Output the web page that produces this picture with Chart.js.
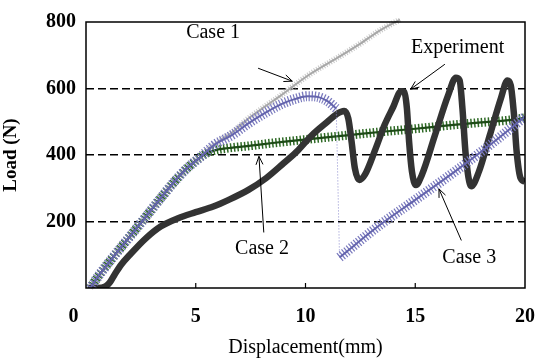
<!DOCTYPE html>
<html>
<head>
<meta charset="utf-8">
<script src="https://cdn.jsdelivr.net/npm/chart.js@4.4.1/dist/chart.umd.min.js"></script>
<style>
  html, body { margin: 0; padding: 0; background: #ffffff; }
  #wrap { width: 552px; height: 360px; position: relative; }
</style>
</head>
<body>
<div id="wrap"><canvas id="c" width="552" height="360"></canvas></div>
<script>
// ---- Data ----
const expX   = [0.1, 0.7, 0.9, 1.1, 1.3, 1.6, 2.0, 2.7, 3.4, 4.2, 5.0, 5.8, 6.5, 7.4, 8.2, 9.0, 9.6, 10.3, 11.0, 11.4, 11.76, 11.95, 12.1, 12.25, 12.45, 12.7, 13.2, 13.6, 14.0, 14.35, 14.5, 14.62, 14.72, 14.85, 15.03, 15.3, 15.9, 16.5, 16.85, 17.02, 17.15, 17.3, 17.55, 17.9, 18.4, 18.9, 19.2, 19.35, 19.5, 19.62, 19.8, 20.0];
const expY   = [0, 1, 5, 18, 40, 70, 100, 148, 185, 210, 228, 245, 265, 295, 330, 375, 410, 460, 500, 522, 532, 510, 440, 360, 325, 340, 420, 490, 545, 592, 590, 540, 440, 350, 310, 340, 460, 580, 632, 625, 540, 400, 306, 350, 460, 570, 624, 610, 520, 410, 330, 320];

const case1X = [0.2, 0.5, 1.2, 2.0, 2.7, 3.4, 4.0, 4.6, 5.2, 5.8, 6.7, 7.4, 8.2, 8.9, 9.4, 10.25, 11.6, 12.5, 13.4, 14.3];
const case1Y = [0, 30, 90, 155, 212, 270, 318, 360, 393, 430, 470, 510, 548, 580, 605, 645, 698, 735, 775, 807];

const case2X = [0.2, 0.5, 1.2, 2.0, 2.7, 3.4, 4.0, 4.6, 5.2, 5.5, 5.8, 6.5, 7.5, 8.5, 9.5, 10.5, 12.0, 13.5, 15.0, 16.5, 18.0, 19.3, 20.0];
const case2Y = [0, 30, 90, 155, 212, 270, 318, 360, 393, 405, 413, 421, 428, 436, 443, 450, 460, 470, 479, 489, 498, 505, 512];

// Case 3 before the load drop, and after it
const case3aX = [0.2, 0.5, 1.2, 2.0, 2.7, 3.4, 4.0, 4.6, 5.2, 5.8, 6.7, 7.4, 8.2, 8.9, 9.5, 10.1, 10.6, 11.0, 11.4];
const case3aY = [0, 30, 90, 155, 212, 270, 318, 360, 393, 428, 462, 495, 528, 553, 568, 577, 574, 562, 540];
const case3bX = [11.55, 13.4, 15.0, 16.8, 18.4, 20.0];
const case3bY = [92, 190, 265, 350, 430, 515];

const xTicks = [0, 5, 10, 15, 20];
const yTicks = [200, 400, 600, 800];

// annotation labels with arrows (in data units)
const notes = [
  { text: 'Case 1',     tx: 5.79,  ty: 768, from: [7.84, 661], to: [9.40, 622] },
  { text: 'Experiment', tx: 16.93, ty: 723, from: [16.35, 673], to: [14.79, 598] },
  { text: 'Case 2',     tx: 8.02,  ty: 119, from: [8.10, 167], to: [7.88, 396] },
  { text: 'Case 3',     tx: 17.46, ty: 92,  from: [17.10, 143], to: [16.08, 298] }
];

function pts(xs, ys) { return xs.map((x, i) => ({ x: x, y: ys[i] })); }
const dropPts = [
  { x: case3aX[case3aX.length - 1], y: case3aY[case3aY.length - 1] },
  { x: case3bX[0], y: case3bY[0] }
];

const serif = "'Liberation Serif', 'Times New Roman', serif";

const framePlugin = {
  id: 'frame',
  afterDatasetsDraw(chart) {
    const { ctx, chartArea: a, scales } = chart;
    ctx.save();
    ctx.strokeStyle = '#000';
    ctx.lineWidth = 1.5;
    ctx.strokeRect(a.left, a.top, a.right - a.left, a.bottom - a.top);
    ctx.lineWidth = 1.2;
    xTicks.slice(1, -1).forEach(v => {
      const px = scales.x.getPixelForValue(v);
      ctx.beginPath();
      ctx.moveTo(px, a.bottom);
      ctx.lineTo(px, a.bottom - 5);
      ctx.stroke();
    });
    ctx.fillStyle = '#000';
    ctx.font = '20px ' + serif;
    ctx.textAlign = 'center';
    ctx.textBaseline = 'middle';
    ctx.lineWidth = 1;
    notes.forEach(n => {
      ctx.fillText(n.text, scales.x.getPixelForValue(n.tx), scales.y.getPixelForValue(n.ty));
      const x0 = scales.x.getPixelForValue(n.from[0]), y0 = scales.y.getPixelForValue(n.from[1]);
      const x1 = scales.x.getPixelForValue(n.to[0]),   y1 = scales.y.getPixelForValue(n.to[1]);
      ctx.beginPath();
      ctx.moveTo(x0, y0);
      ctx.lineTo(x1, y1);
      ctx.stroke();
      const ang = Math.atan2(y1 - y0, x1 - x0);
      const L = 9, w = 0.4;
      ctx.beginPath();
      ctx.moveTo(x1 - L * Math.cos(ang - w), y1 - L * Math.sin(ang - w));
      ctx.lineTo(x1, y1);
      ctx.lineTo(x1 - L * Math.cos(ang + w), y1 - L * Math.sin(ang + w));
      ctx.stroke();
    });
    ctx.restore();
  }
};

const hatch3 = { borderColor: '#7878bd', borderWidth: 10, borderDash: [1.2, 1.8], pointRadius: 0, cubicInterpolationMode: 'monotone' };
const line3  = { borderColor: '#6464ad', borderWidth: 2, pointRadius: 0, cubicInterpolationMode: 'monotone' };

new Chart(document.getElementById('c'), {
  type: 'line',
  data: {
    datasets: [
      // Case 1 (grey)
      { data: pts(case1X, case1Y), borderColor: '#c6c6c6', borderWidth: 6, borderDash: [1, 1.6],
        pointRadius: 0, cubicInterpolationMode: 'monotone', clip: 4, order: 9 },
      { data: pts(case1X, case1Y), borderColor: '#a8a8a8', borderWidth: 2,
        pointRadius: 0, cubicInterpolationMode: 'monotone', clip: 4, order: 8 },
      // Case 2 (green triangles)
      { data: pts(case2X, case2Y), borderColor: '#2f6a26', borderWidth: 9, borderDash: [1.5, 2],
        pointRadius: 0, cubicInterpolationMode: 'monotone', order: 7 },
      { data: pts(case2X, case2Y), borderColor: '#1d4a16', borderWidth: 2.2,
        pointRadius: c => (c.dataIndex === 0 ? 3 : 0), pointStyle: 'rect',
        pointBackgroundColor: '#ffffff', pointBorderColor: '#6a8a70', pointBorderWidth: 1.2,
        cubicInterpolationMode: 'monotone', order: 6 },
      // Experiment (thick dark)
      { data: pts(expX, expY), borderColor: '#333333', borderWidth: 6.5, pointRadius: 0,
        cubicInterpolationMode: 'monotone', order: 5 },
      // Case 3 (blue-purple crosses)
      Object.assign({ data: pts(case3aX, case3aY), order: 4 }, hatch3),
      Object.assign({ data: pts(case3aX, case3aY), order: 3 }, line3),
      { data: dropPts, borderColor: '#8a8acc', borderWidth: 1, borderDash: [1, 2], pointRadius: 0, order: 2 },
      Object.assign({ data: pts(case3bX, case3bY), order: 1 }, hatch3),
      Object.assign({ data: pts(case3bX, case3bY), order: 0 }, line3)
    ]
  },
  options: {
    responsive: false,
    animation: false,
    events: [],
    layout: { padding: { left: 0, top: 19, right: 17, bottom: 0 } },
    plugins: { legend: { display: false }, tooltip: { enabled: false } },
    scales: {
      x: {
        type: 'linear', min: 0, max: 20,
        afterBuildTicks: s => { s.ticks = xTicks.map(v => ({ value: v })); },
        afterFit: s => { s.height = 72; },
        grid: { display: false, drawTicks: false },
        border: { display: false },
        ticks: {
          padding: 17, color: '#000', maxRotation: 0,
          font: { family: serif, size: 20, weight: 'bold' },
          callback: v => (v === 0 ? '0     ' : String(v))
        },
        title: { display: true, text: 'Displacement(mm)', color: '#000',
                 font: { family: serif, size: 20 }, padding: { top: 0, bottom: 0 } }
      },
      y: {
        type: 'linear', min: 0, max: 800,
        afterBuildTicks: s => { s.ticks = yTicks.map(v => ({ value: v })); },
        afterFit: s => { s.width = 86; },
        grid: { drawTicks: false, color: '#000', borderDash: [8, 4],
                lineWidth: c => (c.tick && c.tick.value === 800 ? 0 : 1.4) },
        border: { display: false, dash: [8, 4] },
        ticks: { padding: 10, color: '#000', font: { family: serif, size: 20, weight: 'bold' } },
        title: { display: true, text: 'Load (N)', color: '#000',
                 font: { family: serif, size: 19, weight: 'bold' }, padding: { top: 0, bottom: 6 } }
      }
    }
  },
  plugins: [framePlugin]
});
</script>
</body>
</html>
